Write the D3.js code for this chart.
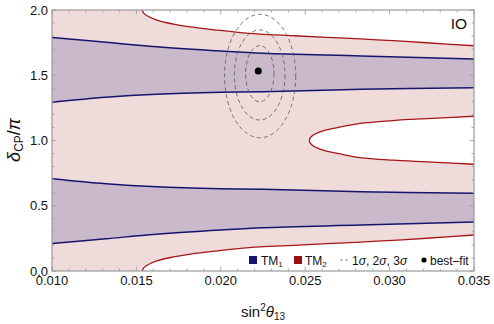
<!DOCTYPE html>
<html>
<head>
<meta charset="utf-8">
<script src="https://cdn.jsdelivr.net/npm/d3@7"></script>
<style>
  body { margin: 0; background: #fff; }
  svg text { font-family: "Liberation Sans", Arial, sans-serif; }
</style>
</head>
<body>
<svg id="chart" width="494" height="324"></svg>
<script>
// TM1 band edges (sin^2 theta13 -> delta/pi)
const tm1X = [0.010, 0.0132, 0.0162, 0.0200, 0.0225, 0.0283, 0.035];
const tm1UpperTop = [1.790, 1.753, 1.719, 1.686, 1.668, 1.648, 1.625];
const tm1UpperBot = [1.293, 1.331, 1.354, 1.369, 1.374, 1.392, 1.405];
const tm1LowerTop = [0.707, 0.669, 0.646, 0.631, 0.626, 0.608, 0.595];
const tm1LowerBot = [0.210, 0.247, 0.281, 0.314, 0.332, 0.352, 0.375];

// TM2 boundary, outer curves
const tm2OuterX = [0.01535, 0.01542, 0.01561, 0.0162, 0.0172, 0.0182, 0.0198, 0.0209, 0.0223, 0.0243, 0.0263, 0.0283, 0.0302, 0.0322, 0.035];
const tm2Top    = [2.000, 1.978, 1.958, 1.923, 1.892, 1.870, 1.845, 1.830, 1.815, 1.803, 1.791, 1.778, 1.765, 1.749, 1.726];
const tm2Bottom = [0.000, 0.022, 0.042, 0.077, 0.108, 0.130, 0.155, 0.170, 0.185, 0.197, 0.209, 0.222, 0.235, 0.251, 0.276];

// TM2 boundary, the "nose" excluded region on the right
const noseX = [0.035, 0.0322, 0.0302, 0.02825, 0.0272, 0.0262, 0.0258, 0.02548, 0.0253, 0.02525, 0.0253, 0.02548, 0.0258, 0.0262, 0.0272, 0.02825, 0.0302, 0.0322, 0.035];
const noseY = [0.818, 0.836, 0.849, 0.869, 0.894, 0.920, 0.938, 0.958, 0.980, 1.000, 1.020, 1.042, 1.062, 1.080, 1.106, 1.131, 1.153, 1.168, 1.186];

// sigma contours and best fit
const sigmaLevels = ["1", "2", "3"];
const contourCx = [0.02231, 0.02230, 0.02233];
const contourCy = [1.512, 1.502, 1.494];
const contourRx = [0.00084, 0.00150, 0.00211];
const contourRy = [0.215, 0.345, 0.473];
const bestFit = [0.02222, 1.533];

const xTicks = [0.010, 0.015, 0.020, 0.025, 0.030, 0.035];
const yTicks = [0.0, 0.5, 1.0, 1.5, 2.0];

const pink = "#f0dbdb", purple = "#cab9ca";
const blue = "#15156e", red = "#a51616";

const svg = d3.select("#chart");
const L = 52, R = 474, T = 10, B = 271;
const x = d3.scaleLinear().domain([0.010, 0.035]).range([L, R]);
const y = d3.scaleLinear().domain([0, 2]).range([B, T]);

svg.append("clipPath").attr("id", "clip")
  .append("rect").attr("x", L).attr("y", T).attr("width", R - L).attr("height", B - T);

const plot = svg.append("g").attr("clip-path", "url(#clip)");

// TM2 allowed region (pink), then the excluded parts in white
plot.append("rect").attr("x", L).attr("y", T).attr("width", R - L).attr("height", B - T).attr("fill", pink);

const outer = tm2OuterX.map((v, i) => ({x: v, top: tm2Top[i], bot: tm2Bottom[i]}));
plot.append("path").datum(outer)
  .attr("fill", "#fff")
  .attr("d", d3.area().curve(d3.curveCatmullRom).x(d => x(d.x)).y0(y(2)).y1(d => y(d.top)));
plot.append("path").datum(outer)
  .attr("fill", "#fff")
  .attr("d", d3.area().curve(d3.curveCatmullRom).x(d => x(d.x)).y0(y(0)).y1(d => y(d.bot)));

const nose = noseX.map((v, i) => [v, noseY[i]]);
const line = d3.line().curve(d3.curveCatmullRom).x(d => x(d[0])).y(d => y(d[1]));
plot.append("path").datum(nose)
  .attr("fill", "#fff")
  .attr("d", d => line(d) + "Z");

// TM1 bands (purple)
const bands = [
  tm1X.map((v, i) => ({x: v, hi: tm1UpperTop[i], lo: tm1UpperBot[i]})),
  tm1X.map((v, i) => ({x: v, hi: tm1LowerTop[i], lo: tm1LowerBot[i]}))
];
const bandArea = d3.area().curve(d3.curveCatmullRom).x(d => x(d.x)).y0(d => y(d.lo)).y1(d => y(d.hi));
plot.selectAll(".band").data(bands).enter().append("path")
  .attr("fill", purple).attr("d", bandArea);

// boundary lines
[tm1UpperTop, tm1UpperBot, tm1LowerTop, tm1LowerBot].forEach(arr => {
  plot.append("path").datum(tm1X.map((v, i) => [v, arr[i]]))
    .attr("fill", "none").attr("stroke", blue).attr("stroke-width", 1.5).attr("d", line);
});
[tm2Top, tm2Bottom].forEach(arr => {
  plot.append("path").datum(tm2OuterX.map((v, i) => [v, arr[i]]))
    .attr("fill", "none").attr("stroke", red).attr("stroke-width", 1.3).attr("d", line);
});
plot.append("path").datum(nose)
  .attr("fill", "none").attr("stroke", red).attr("stroke-width", 1.3).attr("d", line);

// sigma contours
plot.selectAll(".contour").data(sigmaLevels).enter().append("ellipse")
  .attr("cx", (d, i) => x(contourCx[i]))
  .attr("cy", (d, i) => y(contourCy[i]))
  .attr("rx", (d, i) => x(contourCx[i] + contourRx[i]) - x(contourCx[i]))
  .attr("ry", (d, i) => y(contourCy[i]) - y(contourCy[i] + contourRy[i]))
  .attr("fill", "none").attr("stroke", "#555").attr("stroke-width", 0.8)
  .attr("stroke-dasharray", "4,3");

plot.append("circle").attr("cx", x(bestFit[0])).attr("cy", y(bestFit[1])).attr("r", 3.5).attr("fill", "#000");

// frame and ticks
const frameColor = "#999";
svg.append("rect").attr("x", L).attr("y", T).attr("width", R - L).attr("height", B - T)
  .attr("fill", "none").attr("stroke", frameColor).attr("stroke-width", 1.2);

const xMinor = d3.range(0.010, 0.0351, 0.001);
const yMinor = d3.range(0, 2.01, 0.1);
const tickG = svg.append("g").attr("stroke", frameColor).attr("stroke-width", 0.8);
xMinor.forEach((v, i) => {
  const len = i % 5 === 0 ? 4.5 : 2.5;
  tickG.append("line").attr("x1", x(v)).attr("x2", x(v)).attr("y1", B).attr("y2", B - len);
  tickG.append("line").attr("x1", x(v)).attr("x2", x(v)).attr("y1", T).attr("y2", T + len);
});
yMinor.forEach((v, i) => {
  const len = i % 5 === 0 ? 4.5 : 2.5;
  tickG.append("line").attr("x1", L).attr("x2", L + len).attr("y1", y(v)).attr("y2", y(v));
  tickG.append("line").attr("x1", R).attr("x2", R - len).attr("y1", y(v)).attr("y2", y(v));
});

svg.selectAll(".xt").data(xTicks).enter().append("text")
  .attr("x", d => x(d)).attr("y", B + 13.5)
  .attr("text-anchor", "middle").attr("font-size", 13).attr("fill", "#111")
  .text(d3.format(".3f"));
svg.selectAll(".yt").data(yTicks).enter().append("text")
  .attr("x", L - 4).attr("y", d => y(d) + 4.5)
  .attr("text-anchor", "end").attr("font-size", 13).attr("fill", "#111")
  .text(d3.format(".1f"));

// axis titles
const xt = svg.append("text").attr("x", 263).attr("y", 317).attr("text-anchor", "middle")
  .attr("font-size", 15).attr("fill", "#111");
xt.append("tspan").text("sin");
xt.append("tspan").attr("font-size", 10).attr("dy", -6).text("2");
xt.append("tspan").attr("font-style", "italic").attr("dy", 6).text("θ");
xt.append("tspan").attr("font-size", 10).attr("dy", 3).text("13");

const yt = svg.append("text").attr("transform", "translate(20,140) rotate(-90)")
  .attr("text-anchor", "middle").attr("font-size", 18).attr("fill", "#111");
yt.append("tspan").attr("font-style", "italic").text("δ");
yt.append("tspan").attr("font-size", 12).attr("dy", 3).text("CP");
yt.append("tspan").attr("dy", -3).text("/");
yt.append("tspan").attr("font-style", "italic").text("π");

svg.append("text").attr("x", 467).attr("y", 28.5).attr("text-anchor", "end")
  .attr("font-size", 15.5).attr("fill", "#111").text("IO");

// legend
const lg = svg.append("g").attr("font-size", 12).attr("fill", "#111");
lg.append("rect").attr("x", 249).attr("y", 256).attr("width", 8).attr("height", 8).attr("fill", blue);
const t1 = lg.append("text").attr("x", 261).attr("y", 264.5);
t1.append("tspan").text("TM");
t1.append("tspan").attr("font-size", 8).attr("dy", 2).text("1");
lg.append("rect").attr("x", 294).attr("y", 256).attr("width", 8).attr("height", 8).attr("fill", "#9a0f0f");
const t2 = lg.append("text").attr("x", 305).attr("y", 264.5);
t2.append("tspan").text("TM");
t2.append("tspan").attr("font-size", 8).attr("dy", 2).text("2");
lg.append("line").attr("x1", 340).attr("x2", 349).attr("y1", 260).attr("y2", 260)
  .attr("stroke", "#777").attr("stroke-width", 0.8).attr("stroke-dasharray", "3,2");
const t3 = lg.append("text").attr("x", 352).attr("y", 264.5);
sigmaLevels.forEach((s, i) => {
  t3.append("tspan").text(s);
  t3.append("tspan").attr("font-style", "italic").text("σ");
  if (i < sigmaLevels.length - 1) t3.append("tspan").text(", ");
});
lg.append("circle").attr("cx", 424).attr("cy", 260).attr("r", 2.6).attr("fill", "#000");
lg.append("text").attr("x", 430).attr("y", 264.5).text("best\u2013fit");
</script>
</body>
</html>
